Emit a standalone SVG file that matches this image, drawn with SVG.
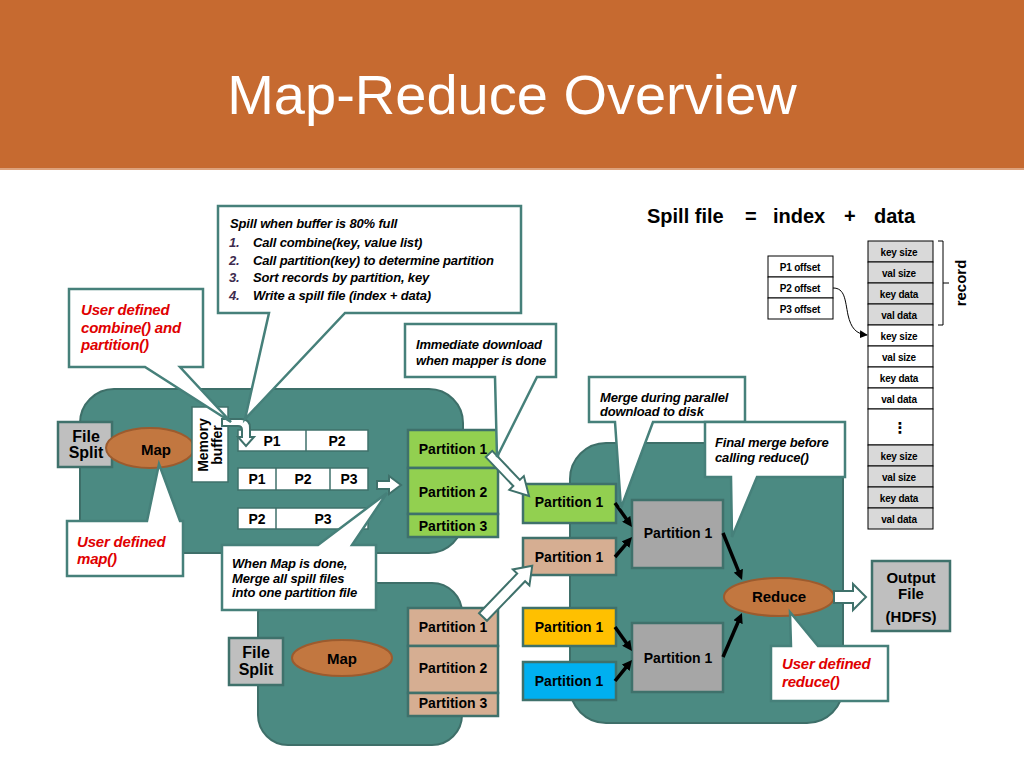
<svg xmlns="http://www.w3.org/2000/svg" width="1024" height="768" viewBox="0 0 1024 768">
<defs>
<style>
.blob{fill:#4B8A82;stroke:#3E6F69;stroke-width:2}
.call{fill:#fff;stroke:#46807A;stroke-width:2.5;stroke-linejoin:miter}
.box{stroke:#3F716B;stroke-width:2.5}
.cell{fill:#fff;stroke:#3F716B;stroke-width:1.5}
.grn{fill:#92D050}
.tan{fill:#D6AE92}
.gry{fill:#A6A6A6}
.lgry{fill:#BFBFBF}
.yel{fill:#FFC000}
.blu{fill:#00B0F0}
.ell{fill:#C27740;stroke:#9C5B2E;stroke-width:2}
.t{font-family:"Liberation Sans",Arial,sans-serif;font-weight:bold;font-size:14px;fill:#000}
.m{text-anchor:middle}
.f15{font-size:15px}
.f16{font-size:16px}
.f20{font-size:20px}
.ci{font-style:italic;font-size:13px;letter-spacing:-0.15px}
.red{font-style:italic;font-size:15px;fill:#E00000;letter-spacing:-0.2px}
.num{fill:#3D2B4F}
.tb{fill:#fff;stroke:#000;stroke-width:1}
.tg{fill:#D9D9D9;stroke:#000;stroke-width:1}
.s{font-size:10px;letter-spacing:-0.2px}
.hol{fill:#fff;stroke:#3F716B;stroke-width:2;stroke-linejoin:miter}
.blk{stroke:#000;stroke-width:3.5;fill:none;marker-end:url(#ah)}
</style>
<marker id="ah" viewBox="0 0 10 10" refX="4" refY="5" markerWidth="10" markerHeight="10" markerUnits="userSpaceOnUse" orient="auto"><path d="M0,0 L10,5 L0,10 Z" fill="#000"/></marker>
<marker id="ah2" viewBox="0 0 10 10" refX="9" refY="5" markerWidth="8" markerHeight="8" markerUnits="userSpaceOnUse" orient="auto"><path d="M0,0 L10,5 L0,10 Z" fill="#000"/></marker>
</defs>

<rect width="1024" height="768" fill="#fff"/>
<g id="header">
<rect x="0" y="0" width="1024" height="168" fill="#C66A30"/>
<rect x="0" y="168" width="1024" height="2" fill="#DDA27C"/>
<text x="512" y="114" text-anchor="middle" font-family="Liberation Sans,Arial,sans-serif" font-size="56" fill="#fff">Map-Reduce Overview</text>
</g>

<g id="blobs">
<rect id="map1-area" class="blob" x="80" y="389" width="383" height="164" rx="34"/>
<rect id="map2-area" class="blob" x="258" y="583" width="204" height="162" rx="30"/>
<rect id="reduce-area" class="blob" x="570" y="443" width="273" height="280" rx="36"/>
</g>

<g id="map1">
<rect id="filesplit1" class="box lgry" x="58" y="422" width="54" height="45"/>
<text class="t m f16" x="86" y="442">File</text>
<text class="t m f16" x="86" y="458">Split</text>
<ellipse id="map1-ell" class="ell" cx="150" cy="448" rx="44" ry="20"/>
<text class="t m f15" x="156" y="455">Map</text>
</g>

<g id="membuf">
<rect class="cell" x="192" y="407" width="36" height="75"/>
<text class="t m" transform="rotate(-90 208 445)" x="208" y="445">Memory</text>
<text class="t m" transform="rotate(-90 222 445)" x="222" y="445">buffer</text>
</g>

<g id="spill-rows">
<rect class="cell" x="238" y="430" width="130" height="21"/>
<line x1="306" y1="430" x2="306" y2="451" stroke="#3F716B" stroke-width="1.5"/>
<text class="t m" x="272" y="446">P1</text>
<text class="t m" x="337" y="446">P2</text>
<rect class="cell" x="238" y="468" width="130" height="22"/>
<line x1="276" y1="468" x2="276" y2="490" stroke="#3F716B" stroke-width="1.5"/>
<line x1="330" y1="468" x2="330" y2="490" stroke="#3F716B" stroke-width="1.5"/>
<text class="t m" x="257" y="484">P1</text>
<text class="t m" x="303" y="484">P2</text>
<text class="t m" x="349" y="484">P3</text>
<rect class="cell" x="238" y="508" width="130" height="21"/>
<line x1="276" y1="508" x2="276" y2="529" stroke="#3F716B" stroke-width="1.5"/>
<text class="t m" x="257" y="524">P2</text>
<text class="t m" x="323" y="524">P3</text>
</g>

<g id="green-parts">
<rect class="box grn" x="408" y="430" width="90" height="38"/>
<rect class="box grn" x="408" y="468" width="90" height="46"/>
<rect class="box grn" x="408" y="514" width="90" height="23"/>
<text class="t m" x="453" y="454">Partition 1</text>
<text class="t m" x="453" y="497">Partition 2</text>
<text class="t m" x="453" y="531">Partition 3</text>
</g>

<g id="map2">
<rect id="filesplit2" class="box lgry" x="229" y="638" width="54" height="47"/>
<text class="t m f16" x="256" y="658">File</text>
<text class="t m f16" x="256" y="675">Split</text>
<ellipse class="ell" cx="342" cy="658" rx="50" ry="18"/>
<text class="t m f15" x="342" y="664">Map</text>
</g>

<g id="tan-parts">
<rect class="box tan" x="408" y="608" width="90" height="38"/>
<rect class="box tan" x="408" y="646" width="90" height="47"/>
<rect class="box tan" x="408" y="693" width="90" height="23"/>
<text class="t m" x="453" y="632">Partition 1</text>
<text class="t m" x="453" y="673">Partition 2</text>
<text class="t m" x="453" y="708">Partition 3</text>
</g>

<g id="reduce-side">
<rect class="box grn" x="523" y="484" width="93" height="39"/>
<text class="t m" x="569" y="507">Partition 1</text>
<rect class="box tan" x="523" y="538" width="93" height="37"/>
<text class="t m" x="569" y="562">Partition 1</text>
<rect class="box yel" x="523" y="608" width="93" height="38"/>
<text class="t m" x="569" y="632">Partition 1</text>
<rect class="box blu" x="523" y="662" width="93" height="38"/>
<text class="t m" x="569" y="686">Partition 1</text>
<rect class="box gry" x="632" y="500" width="91" height="68"/>
<text class="t m" x="678" y="538">Partition 1</text>
<rect class="box gry" x="632" y="623" width="91" height="69"/>
<text class="t m" x="678" y="663">Partition 1</text>
<ellipse class="ell" cx="779" cy="597" rx="55" ry="19"/>
<text class="t m f15" x="779" y="602">Reduce</text>
</g>

<g id="output">
<rect class="box lgry" x="872" y="561" width="78" height="70"/>
<text class="t m f15" x="911" y="583">Output</text>
<text class="t m f15" x="911" y="599">File</text>
<text class="t m f15" x="911" y="622">(HDFS)</text>
</g>

<g id="connectors">
<path class="hol" d="M222,419 H241 Q250,419 250,428 V437 H254 L246,446 L238,437 H242 V430 Q242,426 238,426 H222 Z"/>
<polygon class="hol" transform="translate(377,485)" points="0,-4 12,-4 12,-9 24,0 12,9 12,4 0,4"/>
<polygon class="hol" transform="translate(489,454) rotate(46.4)" points="0,-4.5 40,-4.5 40,-10 58,0 40,10 40,4.5 0,4.5"/>
<polygon class="hol" transform="translate(483,617) rotate(-46.1)" points="0,-5.5 55,-5.5 55,-11.5 71,0 55,11.5 55,5.5 0,5.5"/>
<polygon class="hol" transform="translate(834,597)" points="0,-6 19,-6 19,-13 32,0 19,13 19,6 0,6"/>
<line class="blk" x1="615" y1="503" x2="628.5" y2="522.1"/>
<line class="blk" x1="615" y1="557" x2="628.1" y2="541.6"/>
<line class="blk" x1="723" y1="533" x2="739.8" y2="574.4"/>
<line class="blk" x1="615" y1="627" x2="628.5" y2="646.1"/>
<line class="blk" x1="615" y1="681" x2="628.2" y2="664.7"/>
<line class="blk" x1="723" y1="657" x2="739.6" y2="618.5"/>
<path d="M833,288 C845,288 845,300 848,315 C851,328 856,334 867,335" fill="none" stroke="#000" stroke-width="1" marker-end="url(#ah2)"/>
</g>

<g id="callout-spill">
<path class="call" d="M218,206 H521 V313 H345 L245,419 L269,313 H218 Z"/>
<text class="t ci" x="230" y="228">Spill when buffer is 80% full</text>
<text class="t ci num" x="229" y="247">1.</text><text class="t ci" x="253" y="247">Call combine(key, value list)</text>
<text class="t ci num" x="229" y="265">2.</text><text class="t ci" x="253" y="265">Call partition(key) to determine partition</text>
<text class="t ci num" x="229" y="282">3.</text><text class="t ci" x="253" y="282">Sort records by partition, key</text>
<text class="t ci num" x="229" y="300">4.</text><text class="t ci" x="253" y="300">Write a spill file (index + data)</text>
</g>

<g id="callout-combine">
<path class="call" d="M69,289 H203 V367 H180 L231,422 L145,367 H69 Z"/>
<text class="t red" x="81" y="315">User defined</text>
<text class="t red" x="81" y="333">combine() and</text>
<text class="t red" x="81" y="350">partition()</text>
</g>

<g id="callout-download">
<path class="call" d="M405,324 H556 V377 H537 L497,457 L495,377 H405 Z"/>
<text class="t ci" x="416" y="349">Immediate download</text>
<text class="t ci" x="416" y="365">when mapper is done</text>
</g>

<g id="callout-map">
<path class="call" d="M67,521 H147 L159,464 L180,521 H183 V576 H67 Z"/>
<text class="t red" x="77" y="547">User defined</text>
<text class="t red" x="77" y="564">map()</text>
</g>

<g id="callout-merge-spill">
<path class="call" d="M222,545 H318 L387,493 L352,545 H376 V610 H222 Z"/>
<text class="t ci" x="232" y="568">When Map is done,</text>
<text class="t ci" x="232" y="583">Merge all spill files</text>
<text class="t ci" x="232" y="597">into one partition file</text>
</g>

<g id="callout-parallel">
<path class="call" d="M589,377 H745 V422 H653 L621,508 L615,422 H589 Z"/>
<text class="t ci" x="600" y="402">Merge during parallel</text>
<text class="t ci" x="600" y="416">download to disk</text>
</g>

<g id="callout-final">
<path class="call" d="M705,422 H845 V477 H757 L732,537 L731,477 H705 Z"/>
<text class="t ci" x="715" y="447">Final merge before</text>
<text class="t ci" x="715" y="462">calling reduce()</text>
</g>

<g id="callout-reduce">
<path class="call" d="M771,646 H791 L790,612 L818,646 H888 V701 H771 Z"/>
<text class="t red" x="782" y="669">User defined</text>
<text class="t red" x="782" y="687">reduce()</text>
</g>

<g id="spill-file">
<text class="t f20" y="223"><tspan x="647">Spill file</tspan><tspan x="745">=</tspan><tspan x="773">index</tspan><tspan x="844">+</tspan><tspan x="874">data</tspan></text>
<g id="index-table">
<rect class="tb" x="768" y="256" width="65" height="21"/>
<rect class="tb" x="768" y="277" width="65" height="21"/>
<rect class="tb" x="768" y="298" width="65" height="21"/>
<text class="t s m" x="800" y="271">P1 offset</text>
<text class="t s m" x="800" y="292">P2 offset</text>
<text class="t s m" x="800" y="313">P3 offset</text>
</g>
<g id="data-table">
<rect class="tg" x="868" y="241" width="65" height="21"/>
<rect class="tg" x="868" y="262" width="65" height="21"/>
<rect class="tg" x="868" y="283" width="65" height="21"/>
<rect class="tg" x="868" y="304" width="65" height="21"/>
<rect class="tb" x="868" y="325" width="65" height="21"/>
<rect class="tb" x="868" y="346" width="65" height="21"/>
<rect class="tb" x="868" y="367" width="65" height="21"/>
<rect class="tb" x="868" y="388" width="65" height="21"/>
<rect class="tb" x="868" y="409" width="65" height="36"/>
<rect class="tg" x="868" y="445" width="65" height="21"/>
<rect class="tg" x="868" y="466" width="65" height="21"/>
<rect class="tg" x="868" y="487" width="65" height="21"/>
<rect class="tg" x="868" y="508" width="65" height="21"/>
<text class="t s m" x="899" y="256">key size</text>
<text class="t s m" x="899" y="277">val size</text>
<text class="t s m" x="899" y="298">key data</text>
<text class="t s m" x="899" y="319">val data</text>
<text class="t s m" x="899" y="340">key size</text>
<text class="t s m" x="899" y="361">val size</text>
<text class="t s m" x="899" y="382">key data</text>
<text class="t s m" x="899" y="403">val data</text>
<text class="t m f15" style="font-family:'DejaVu Sans',sans-serif" x="900" y="433">⋮</text>
<text class="t s m" x="899" y="460">key size</text>
<text class="t s m" x="899" y="481">val size</text>
<text class="t s m" x="899" y="502">key data</text>
<text class="t s m" x="899" y="523">val data</text>
</g>
<path d="M938,241 H943 V325 H938 M943,283 H949" fill="none" stroke="#000" stroke-width="1"/>
<text class="t m f15" transform="rotate(-90 966 283)" x="966" y="283">record</text>
</g>
</svg>
